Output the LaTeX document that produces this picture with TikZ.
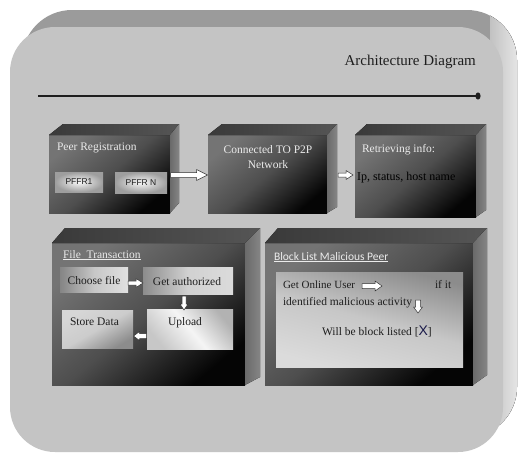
\documentclass[tikz,border=0pt]{standalone}
\usepackage{fontspec}
\setmainfont{Liberation Serif}
\newfontfamily\carlito{Carlito}
\newfontfamily\lsans{Liberation Sans}
\usetikzlibrary{calc}
\definecolor{bgfront}{HTML}{C4C4C4}
\definecolor{bgtop}{HTML}{9B9B9B}
\definecolor{bgsideA}{HTML}{C2C2C2}
\definecolor{bgsideB}{HTML}{E6E6E6}
\definecolor{frontA}{HTML}{747474}
\definecolor{frontB}{HTML}{4E4E4E}
\definecolor{frontC}{HTML}{050505}
\definecolor{topA}{HTML}{555555}
\definecolor{topB}{HTML}{3A3A3A}
\definecolor{sideA}{HTML}{6A6A6A}
\definecolor{sideB}{HTML}{858585}
\definecolor{arrowline}{HTML}{333333}
\definecolor{darktext}{HTML}{1E1E1E}
\definecolor{navy}{HTML}{1A1A4A}
\newcommand\cubefaces[5]{%
  \fill[cubetop] (#1.north west) -- ++(#2,-#4) -- ($(#1.north east)+(#3,-#4)$) -- (#1.north east) -- cycle;
  \fill[cubeside] (#1.north east) -- ($(#1.north east)+(#3,-#4)$) -- ($(#1.south east)+(#3,-#5)$) -- (#1.south east) -- cycle;
}
% #1 centre, #2 angle, #3 length, #4 shaft half width, #5 head half width, #6 head length
\newcommand\blockarrow[6]{%
  \draw[blockarrowstyle,shift={#1},rotate=#2] (-#3/2,-#4) -- (#3/2-#6,-#4) -- (#3/2-#6,-#5) -- (#3/2,0)
    -- (#3/2-#6,#5) -- (#3/2-#6,#4) -- (-#3/2,#4) -- cycle;
}
\begin{document}
\begin{tikzpicture}[x=1pt,y=-1pt,
  front/.style={draw=none,inner sep=0pt,outer sep=0pt,anchor=north west,
     top color=frontA, bottom color=frontC, middle color=frontB, shading angle=40},
  cubetop/.style={left color=topB,right color=topA},
  cubeside/.style={left color=sideA,right color=sideB},
  lbl/.style={inner sep=0pt,outer sep=0pt,anchor=base west,text=darktext,font=\fontsize{11.5}{13}\selectfont},
  wlbl/.style={lbl,text=white!92!black},
  btn/.style={draw=none,inner sep=0pt,outer sep=0pt,anchor=north west},
  blockarrowstyle/.style={draw=arrowline,fill=white,line width=0.5pt,line join=miter}
]
\useasboundingbox (0,0) rectangle (518,453);
\fill[white] (0,0) rectangle (518,453);
% big rounded panel
\fill[bgtop,rounded corners=50pt] (22,10) rectangle (517,437);
\begin{scope}
  \clip[rounded corners=50pt] (22,10) rectangle (517,437);
  \fill[left color=bgsideA,right color=bgsideB] (490,0) rectangle (518,453);
\end{scope}
\fill[bgfront,rounded corners=45pt] (10,27) rectangle (503,452);
% title and rule
\node[inner sep=0pt,anchor=base east,font=\fontsize{15}{17}\selectfont,text=darktext] (title) at (476,65) {Architecture Diagram};
\coordinate (lineS) at (38,96);
\coordinate (lineE) at (478,96);
\draw[line width=1.6pt,color=darktext] (lineS) -- (lineE);
\fill[darktext] (lineE) ellipse (2.6pt and 3.6pt);
% top row cubes
\node[front,minimum width=121pt,minimum height=78pt] (b1) at (49,135) {};
\cubefaces{b1}{14}{9}{11}{10}
\node[front,minimum width=119pt,minimum height=78pt] (b2) at (208,135) {};
\cubefaces{b2}{14}{10}{11}{6}
\node[front,minimum width=121pt,minimum height=82pt] (b3) at (355,135) {};
\cubefaces{b3}{12}{10}{11}{7}
% bottom row cubes
\node[front,minimum width=193pt,minimum height=142pt] (b4) at (52,243) {};
\cubefaces{b4}{13}{15}{15}{8}
\node[front,minimum width=208pt,minimum height=142pt] (b5) at (265,243) {};
\cubefaces{b5}{13}{14}{15}{10}
% box 1 contents
\node[wlbl] (peerreg) at (57,150) {Peer Registration};
\node[btn,minimum width=48pt,minimum height=20pt,inner color=white!95!gray,outer color=black!38] (peer1) at (55,172) {};
\node[font=\lsans\fontsize{8.5}{9}\selectfont,text=darktext] at (peer1.center) {PFFR1};
\node[btn,minimum width=52pt,minimum height=21pt,inner color=white!95!gray,outer color=black!38] (peerN) at (115,172) {};
\node[font=\lsans\fontsize{8.5}{9}\selectfont,text=darktext] at (peerN.center) {PFFR N};
% box 2 contents
\node[wlbl,anchor=base] (conn1) at (268,153) {Connected TO P2P};
\node[wlbl,anchor=base] (conn2) at (268,168) {Network};
% box 3 contents
\node[wlbl] (retr) at (362,152) {Retrieving info:};
\node[lbl,text=black,font=\fontsize{12}{14}\selectfont] (ipinfo) at (357,180) {Ip, status, host name};
% top arrows
\blockarrow{($(b1.east)!0.5!(b2.west)+(0,1)$)}{0}{37}{2.5}{5.5}{11}
\blockarrow{(345.5,175)}{0}{15}{2}{4.5}{7}
% box 4 contents
\node[wlbl] (ft) at (63,258) {\underline{File~ Transaction}};
\node[btn,minimum width=68pt,minimum height=25pt,left color=black!48,right color=black!12,middle color=black!22] (choose) at (60,267) {};
\node[lbl,anchor=base] at ($(choose.center)+(0,4.5)$) {Choose file};
\node[btn,minimum width=90pt,minimum height=27pt,left color=black!45,right color=black!14,middle color=black!18] (getauth) at (143,267) {};
\node[lbl,anchor=base] at ($(getauth.center)+(-1,4.5)$) {Get authorized};
\node[btn,minimum width=86pt,minimum height=40pt,top color=black!30,bottom color=black!22,middle color=black!4,shading angle=-50] (upload) at (147,309) {};
\node[lbl,anchor=base] at (185,325) {Upload};
\node[btn,minimum width=71pt,minimum height=38pt,top color=black!16,bottom color=black!45,middle color=black!20,shading angle=30] (store) at (62,310) {};
\node[lbl] at (70,325) {Store Data};
\blockarrow{($(choose.east)!0.5!(getauth.west)+(0,3)$)}{0}{15}{2}{4.5}{7}
\blockarrow{(184,303)}{-90}{14}{2}{4}{6}
\blockarrow{($(store.east)!0.5!(upload.west)+(0,7)$)}{180}{13}{2.5}{4.5}{6}
% box 5 contents
\node[wlbl,font=\carlito\fontsize{11.5}{13}\selectfont] (bl) at (274,260) {\underline{Block List Malicious Peer}};
\node[btn,minimum width=187pt,minimum height=95pt,left color=black!45,right color=black!14,middle color=black!22,shading angle=-15] (inner) at (276,272) {};
\node[lbl,font=\fontsize{11}{13}\selectfont] (gou) at (283,288) {Get Online User};
\node[lbl] (ifit) at (435,288) {if it};
\node[lbl] (ima) at (283,305) {identified malicious activity};
\node[lbl] (wbl) at (322,335) {Will be block listed [{\lsans\fontsize{14}{15}\selectfont\color{navy}X}]};
\blockarrow{(372,286)}{0}{20}{2.5}{5}{7}
\blockarrow{(418,306.5)}{-90}{13}{2.5}{4.5}{6}
\end{tikzpicture}
\end{document}
